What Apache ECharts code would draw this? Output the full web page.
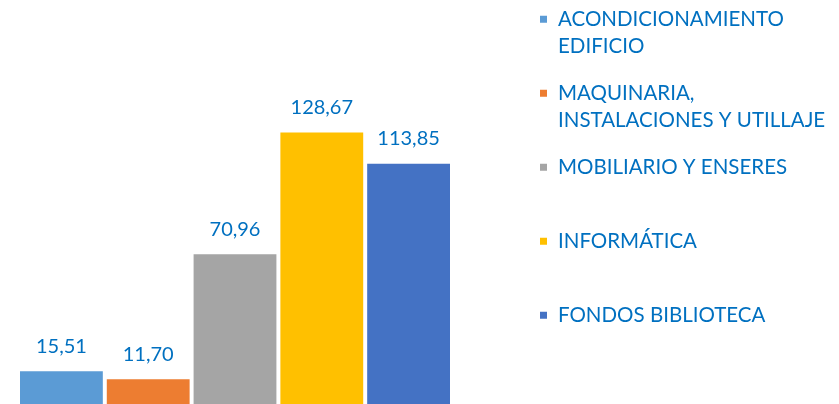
<!DOCTYPE html>
<html>
<head>
<meta charset="utf-8">
<script src="https://cdn.jsdelivr.net/npm/echarts@6/dist/echarts.min.js"></script>
<style>
  html, body { margin: 0; padding: 0; background: #fff; }
  #chart { width: 839px; height: 404px; }
</style>
</head>
<body>
<div id="chart"></div>
<script>
// datos
var categorias = [
  'ACONDICIONAMIENTO\nEDIFICIO',
  'MAQUINARIA,\nINSTALACIONES Y UTILLAJE',
  'MOBILIARIO Y ENSERES',
  'INFORMÁTICA',
  'FONDOS BIBLIOTECA'
];
var valores = [15.51, 11.70, 70.96, 128.67, 113.85];
var colores = ['#5B9BD5', '#ED7D31', '#A5A5A5', '#FFC000', '#4472C4'];

var azul = '#0070C0';
var fuente = 'Lato';

var chart = echarts.init(document.getElementById('chart'));

var series = [];
for (var i = 0; i < categorias.length; i++) {
  series.push({
    name: categorias[i],
    type: 'bar',
    data: [valores[i]],
    itemStyle: { color: colores[i] },
    barGap: '4.8%',
    barCategoryGap: '0%',
    label: {
      show: true,
      position: 'top',
      distance: 15,
      color: azul,
      fontFamily: fuente,
      fontSize: 20,
      formatter: function (p) {
        return p.value.toFixed(2).replace('.', ',');
      }
    }
  });
}

chart.setOption({
  animation: false,
  grid: { left: 20, right: 389, top: 0, bottom: -5.5 },
  xAxis: { type: 'category', data: [''], show: false },
  yAxis: { type: 'value', min: 0, max: 191.4, show: false },
  legend: {
    orient: 'vertical',
    left: 540,
    top: -22,
    padding: 0,
    itemGap: -8.5,
    itemWidth: 7,
    itemHeight: 7,
    icon: 'rect',
    // tres lineas por entrada: el icono queda a la altura de la primera
    formatter: function (name) {
      var partes = name.split('\n');
      return partes.length > 1 ? '\n' + name : '\n' + name + '\n';
    },
    textStyle: {
      color: azul,
      fontFamily: fuente,
      fontSize: 20.5,
      lineHeight: 27.5,
      padding: [0, 0, 0, 6]
    },
    data: categorias
  },
  series: series
});
</script>
</body>
</html>
